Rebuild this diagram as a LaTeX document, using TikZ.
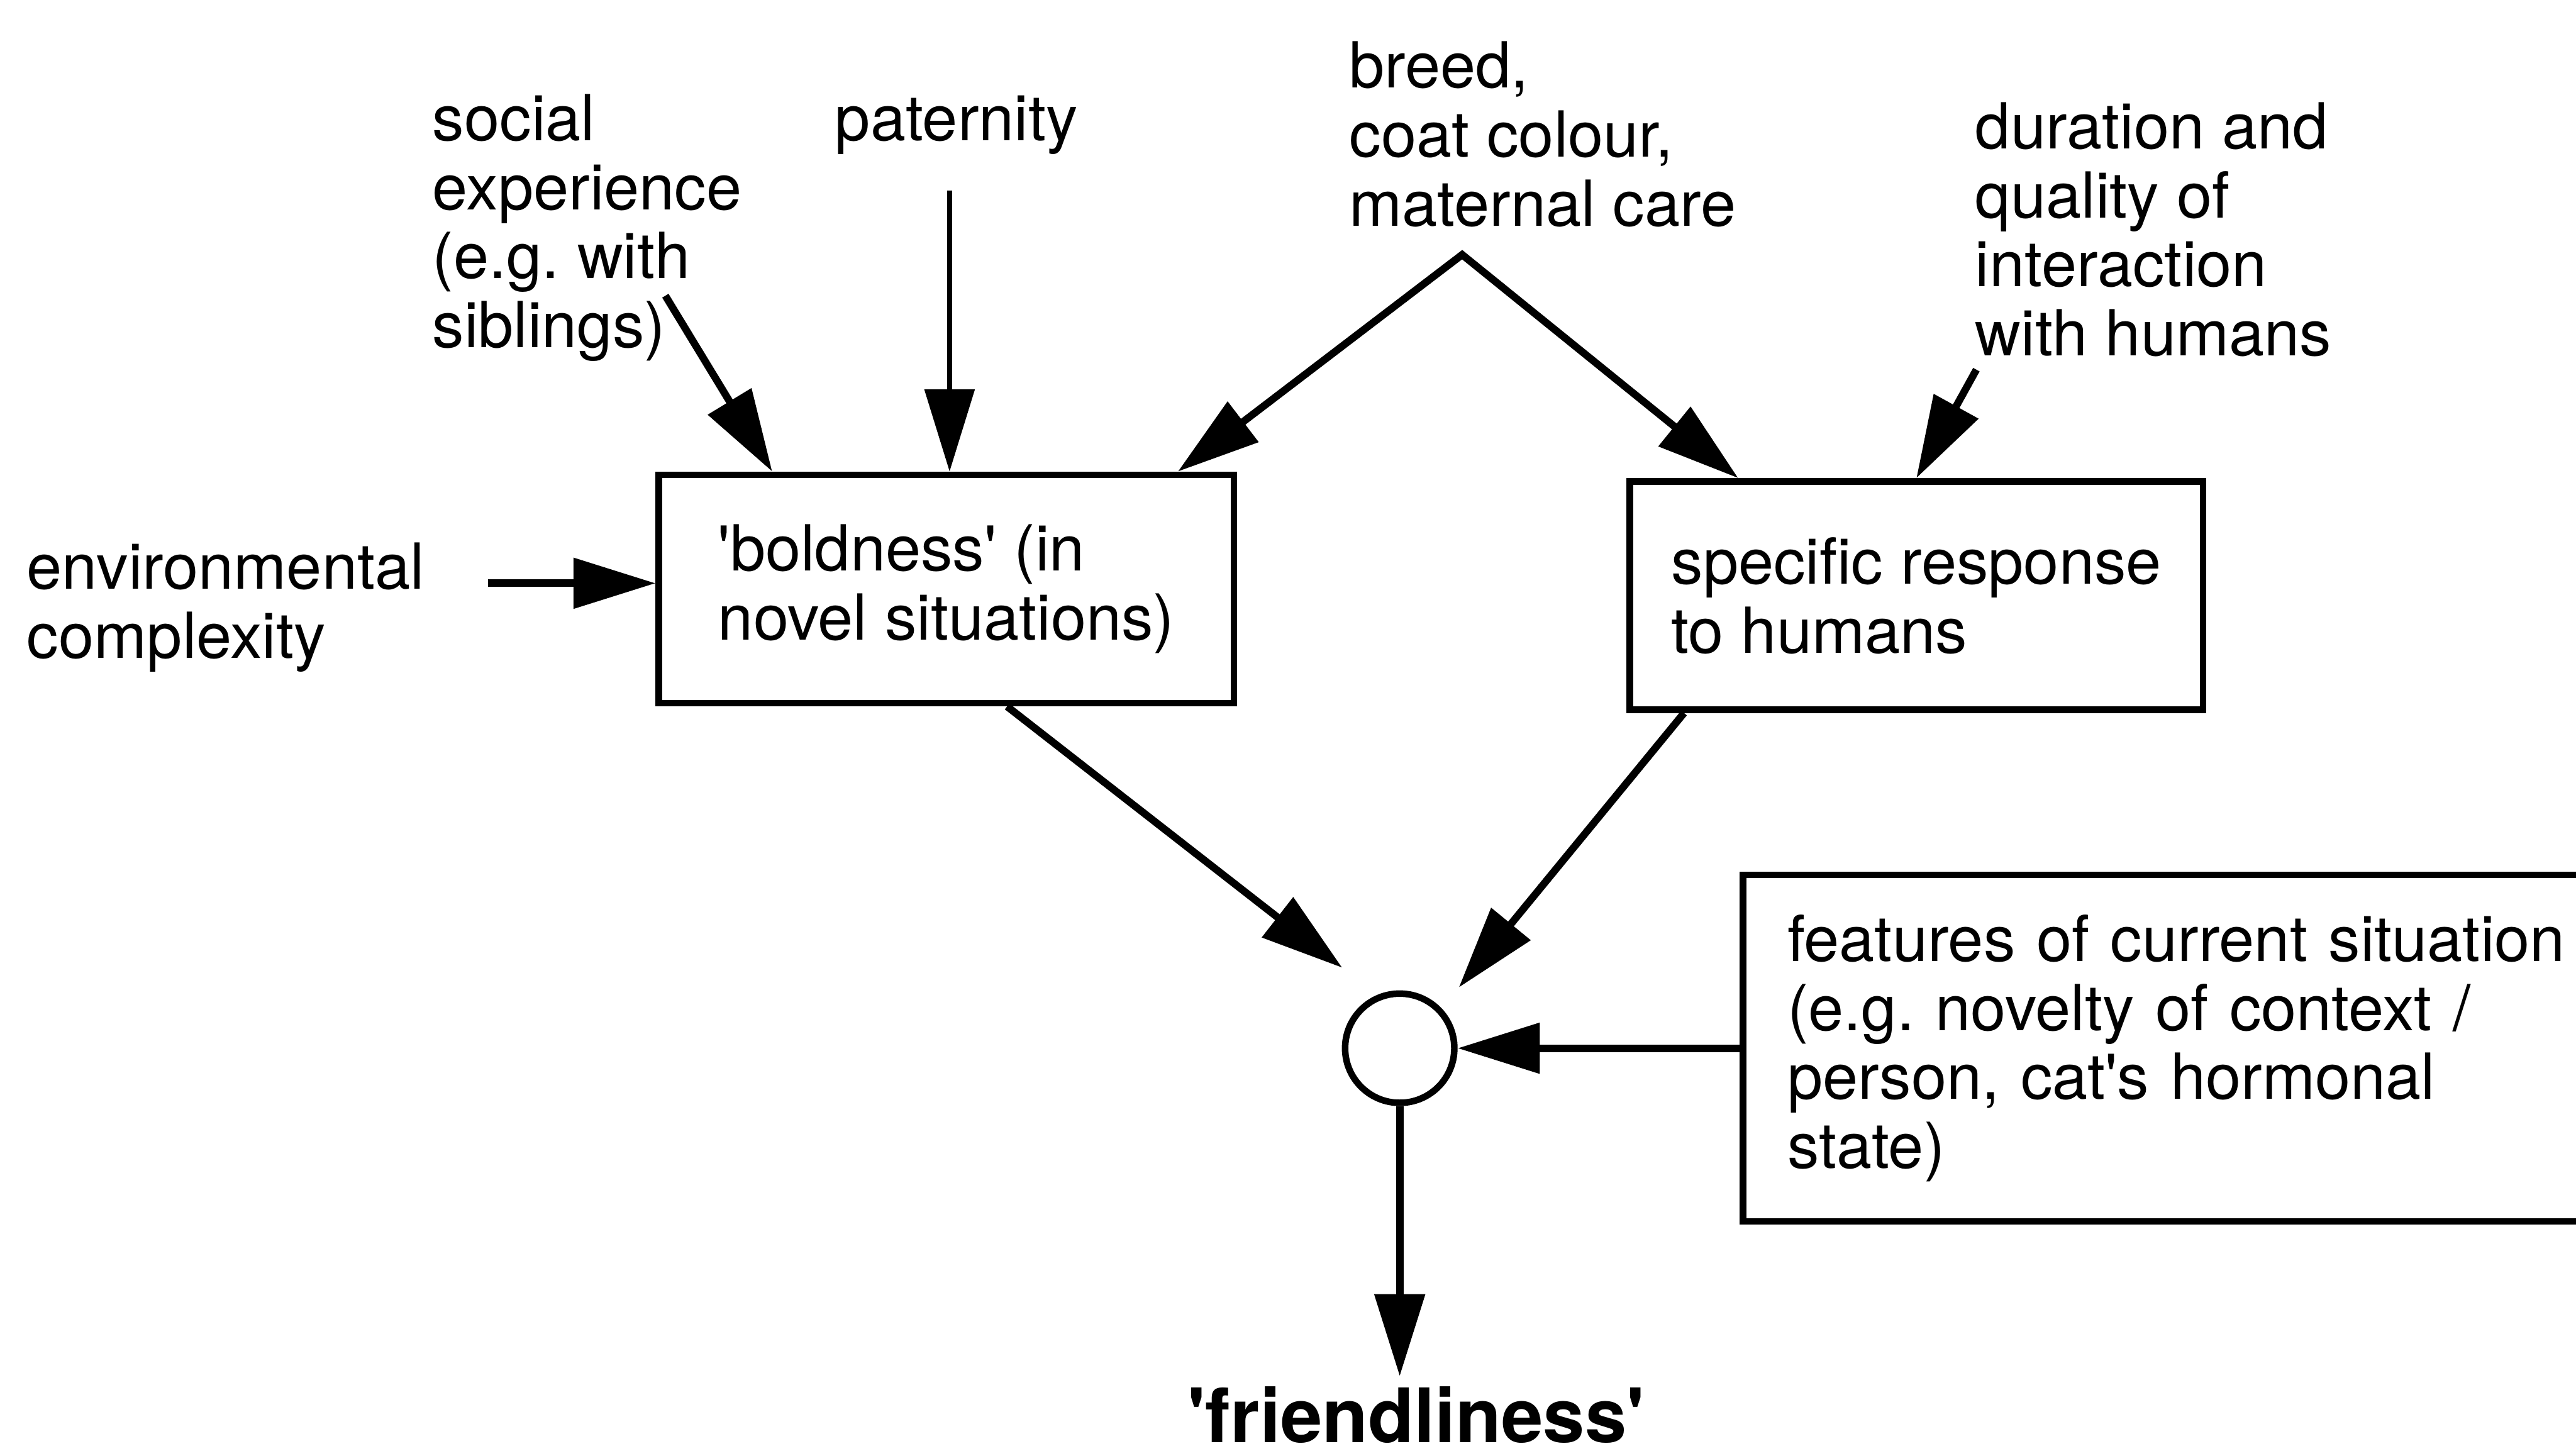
\documentclass[tikz,border=0pt]{standalone}
\usepackage{fontspec}
\setmainfont{TeX Gyre Heros}
\usetikzlibrary{arrows.meta,calc}
\frenchspacing
\begin{document}
\begin{tikzpicture}[x=0.02cm,y=-0.02cm,
  lbl/.style={anchor=north west, inner sep=0pt, align=left, font=\fontsize{22}{23.9}\selectfont},
  boxn/.style={draw, line width=0.08cm, align=left, inner sep=0pt, font=\fontsize{22}{23.9}\selectfont},
  tipb/.tip={Triangle[length=1.0cm,width=0.6cm]},
  arr/.style={line width=0.09cm, -tipb},
]
\fill[white] (0,0) rectangle (1568,886);
\useasboundingbox (0,0) rectangle (1568,886);

% labels
\node[lbl] (soc) at (263,57) {social\\experience\\(e.g. with\\siblings)};
\node[lbl] (pat) at (508,58) {paternity};
\node[lbl] (brd) at (821,25) {breed,\\coat colour,\\maternal care};
\node[lbl] (dur) at (1202,62) {duration and\\quality of\\interaction\\with humans};
\node[lbl] (env) at (16,330) {environmental\\complexity};

% boxes
\node[boxn, minimum width=7cm, minimum height=2.78cm] (b1) at (576,358.5)
  {\textquotesingle boldness\textquotesingle\ (in\\novel situations)};
\node[boxn, minimum width=6.98cm, minimum height=2.78cm] (b2) at (1166.5,362.5)
  {specific response\\to humans};
\node[boxn, anchor=west, minimum height=4.22cm, text width=9.8cm, inner xsep=0.54cm] (b3) at (1059,638)
  {features of current situation\\(e.g. novelty of context /\\person, cat\textquotesingle s hormonal\\state)};

% combining node and result
\node[circle, draw, line width=0.08cm, minimum size=1.33cm, inner sep=0pt] (c) at (852,638) {};
\node[anchor=base, inner sep=0pt, font=\fontsize{26}{28}\selectfont\bfseries] (fr) at (862,878)
  {\textquotesingle friendliness\textquotesingle};

% free arrow ends
\coordinate (s1) at (405,180);
\coordinate (s2) at (578,116);
\coordinate (s3) at (890,155);
\coordinate (s5) at (1203,225);
\coordinate (s6) at (297,355);

% connectors
\draw[arr] (s1) -- ([shift={(71,0)}]b1.north west);
\draw[arr, line width=0.06cm] (s2) -- (s2 |- b1.north);
\draw[line width=0.09cm, tipb-tipb] ([shift={(-36,0)}]b1.north east) -- (s3) -- ([shift={(68,0)}]b2.north west);
\draw[arr] (s5) -- (b2.north);
\draw[arr] (s6) -- (s6 -| b1.west);
\draw[arr] ([shift={(37,0)}]b1.south) -- ([shift={(-35,-49)}]c.center);
\draw[arr] ([shift={(35,0)}]b2.south west) -- ([shift={(36,-37)}]c.center);
\draw[arr] (b3.west) -- (c.east);
\draw[arr] (c.south) -- ($(c.south |- fr.north)+(0,-6)$);
\end{tikzpicture}
\end{document}
